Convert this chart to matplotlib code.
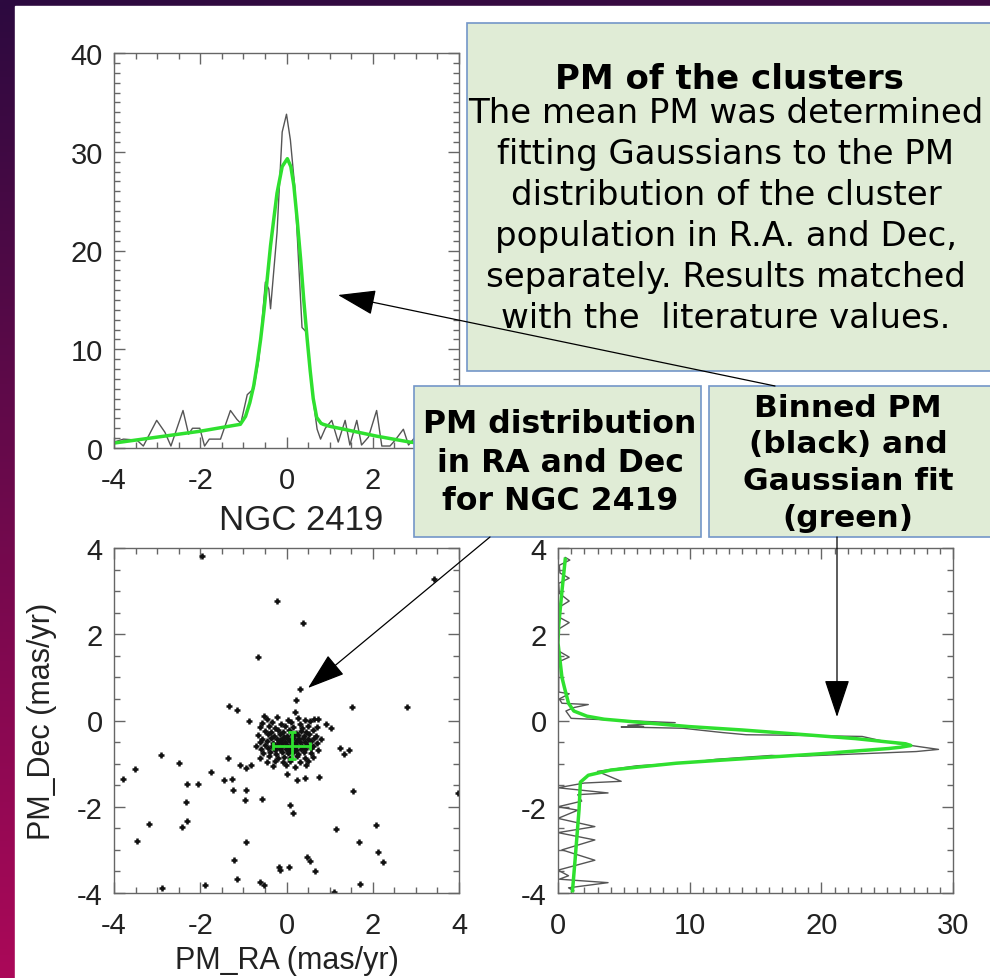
import numpy as np
import matplotlib
matplotlib.use("Agg")
import matplotlib.pyplot as plt
from matplotlib.patches import Rectangle, FancyArrowPatch
from matplotlib.ticker import MultipleLocator, FixedLocator

plt.rcParams['font.family'] = ['Liberation Sans', 'DejaVu Sans']
plt.rcParams['axes.unicode_minus'] = False

# binned PM in RA (top panel)
ra_bins = [-4.0, -3.78, -3.47, -3.32, -3.01, -2.82, -2.68, -2.40, -2.27, -2.18,
           -2.01, -1.90, -1.79, -1.53, -1.30, -1.15, -1.06, -0.91, -0.76, -0.64,
           -0.49, -0.41, -0.37, -0.22, -0.10, 0.0, 0.09, 0.19, 0.36, 0.47,
           0.55, 0.63, 0.71, 0.79, 0.90, 1.05, 1.20, 1.36, 1.47, 1.63,
           1.74, 1.90, 2.09, 2.21, 2.40, 2.52, 2.71, 2.83, 3.00, 3.15,
           3.30, 3.50, 3.70, 3.85, 4.0]
ra_counts = [0.6, 0.9, 0.8, 0.2, 2.8, 1.6, 0.2, 3.8, 1.4, 2.0,
             2.0, 0.2, 0.9, 0.9, 3.8, 2.9, 2.5, 5.4, 6.0, 9.0,
             16.8, 16.1, 14.1, 21.8, 32.0, 33.8, 31.2, 26.5, 12.2, 11.7,
             7.9, 4.5, 1.9, 0.9, 2.0, 2.8, 0.6, 2.8, 0.3, 2.8,
             0.3, 1.1, 3.8, 0.2, 0.2, 0.8, 1.9, 0.3, 1.2, 0.4,
             1.5, 0.3, 0.9, 0.2, 0.5]

# gaussian fit in RA
ra_fit_x = [-4.0, -3.0, -2.0, -1.07, -0.95, -0.85, -0.76, -0.68, -0.60, -0.52,
            -0.45, -0.37, -0.30, -0.22, -0.10, 0.02, 0.10, 0.17, 0.25, 0.33,
            0.40, 0.48, 0.55, 0.62, 0.70, 0.80, 0.85, 1.0, 1.33, 2.09,
            2.86, 3.5, 4.0]
ra_fit_y = [0.5, 1.1, 1.7, 2.4, 3.2, 4.6, 6.3, 8.5, 11.0, 14.0,
            17.0, 20.5, 23.0, 25.8, 28.5, 29.3, 28.5, 26.6, 23.0, 19.0,
            15.0, 11.0, 7.8, 5.0, 3.1, 2.5, 2.4, 2.2, 1.9, 1.2,
            0.6, 0.3, 0.15]
ra_ticks = [-4, -2, 0, 2, 4]
ra_ticklabels = ['-4', '-2', '0', '2', '']   # the "4" sits under the text box

# binned PM in Dec (right panel, drawn sideways)
dec_counts = [0.55, 0.9, 0.1, 0.15, 0.85, 0.05, 0.1, 0.85, 0.05, 0.05,
              0.85, 0.05, 0.0, 0.0, 0.85, 0.05, 0.05, 0.05, 0.05, 0.85,
              0.1, 0.3, 2.3, 1.2, 0.6, 1.0, 2.5, 8.9, 5.3, 6.5,
              4.8, 9.5, 12.5, 14.3, 17.0, 23.1, 25.0, 26.6, 28.9, 27.2,
              18.2, 16.2, 12.0, 9.9, 6.0, 3.0, 4.8, 2.0, 0.0, 3.8,
              1.5, 1.8, 0.0, 1.5, 0.0, 2.8, 0.0, 2.8, 0.3, 2.8,
              0.0, 0.8, 0.1, 3.8, 0.8, 1.2]
dec_bins = [3.78, 3.72, 3.60, 3.42, 3.30, 3.18, 2.95, 2.77, 2.62, 2.40,
            2.27, 2.12, 1.85, 1.62, 1.47, 1.36, 1.10, 0.85, 0.66, 0.62,
            0.50, 0.40, 0.37, 0.30, 0.22, 0.05, 0.03, -0.05, -0.11, -0.14,
            -0.15, -0.18, -0.28, -0.33, -0.34, -0.37, -0.50, -0.57, -0.67, -0.72,
            -0.83, -0.81, -0.90, -0.98, -1.05, -1.18, -1.41, -1.45, -1.56, -1.68,
            -1.72, -1.87, -2.00, -2.08, -2.27, -2.46, -2.60, -2.77, -3.00, -3.24,
            -3.47, -3.60, -3.68, -3.76, -3.88, -3.95]

# gaussian fit in Dec
dec_fit_counts = [0.55, 0.3, 0.05, 0.0, 0.3, 0.5, 0.8, 1.2, 2.2, 3.5,
                  6.5, 9.9, 14.0, 17.5, 20.5, 22.6, 24.8, 26.4, 26.8, 26.0,
                  25.1, 22.5, 20.0, 16.0, 12.4, 9.0, 6.1, 4.0, 2.3, 1.7,
                  1.6, 1.3, 1.1]
dec_fit_y = [3.74, 3.0, 2.2, 1.8, 1.0, 0.75, 0.4, 0.22, 0.1, 0.03,
             -0.05, -0.14, -0.22, -0.30, -0.37, -0.42, -0.49, -0.54, -0.58, -0.62,
             -0.65, -0.71, -0.77, -0.85, -0.92, -0.99, -1.08, -1.15, -1.27, -1.43,
             -2.06, -3.22, -3.95]

# stars: PM_RA, PM_Dec (mas/yr)
pm_ra = [-1.96, 3.43, -0.23, 0.39, -0.67, 0.31, 0.23, -1.33, -1.14, 1.53,
         2.79, 0.20, -2.91, -3.52, -3.80, -2.49, -2.31, -2.05, -2.33, -3.18,
         -2.42, -2.31, -3.47, -1.75, -1.36, -1.44, -1.26, -1.25, -0.93, -0.97,
         -0.56, -0.94, -1.22, -1.15, -1.90, -2.89, -0.62, -0.53, -0.18, -0.16,
         0.06, 0.48, 0.54, 0.65, 0.08, 0.15, 1.14, 1.54, 1.68, 2.07,
         2.13, 2.24, 1.70, 1.11, 3.97, 1.23, 1.45, 1.33, 0.76, 0.44,
         0.25, 0.02, -0.88, -0.53, 0.91, 1.03, 0.74, -1.08, -0.95, -0.83,
         -0.45, -0.22, 0.04, 0.26, 0.44, 0.63,
         -0.56, -0.34, -0.12, 0.11, 0.31, 0.54,
         -0.62, -0.41, -0.26, -0.04, 0.16, 0.36, 0.49, 0.71,
         -0.51, -0.36, -0.19, -0.07, 0.06, 0.21, 0.33, 0.46, 0.61,
         -0.66, -0.43, -0.29, -0.14, 0.01, 0.13, 0.26, 0.41, 0.53, 0.69,
         -0.56, -0.37, -0.23, -0.09, 0.03, 0.16, 0.29, 0.39, 0.51, 0.63, 0.79,
         -0.61, -0.46, -0.31, -0.17, -0.04, 0.07, 0.19, 0.31, 0.43, 0.56, 0.71,
         -0.71, -0.49, -0.34, -0.21, -0.11, 0.01, 0.11, 0.23, 0.36, 0.47, 0.61,
         -0.59, -0.43, -0.27, -0.16, -0.02, 0.09, 0.21, 0.33, 0.44, 0.57, 0.73,
         -0.54, -0.39, -0.24, -0.11, 0.03, 0.14, 0.27, 0.41, 0.56,
         -0.61, -0.41, -0.19, -0.06, 0.09, 0.24, 0.43, 0.62,
         -0.46, -0.26, -0.09, 0.07, 0.31, 0.51,
         -0.31, -0.01, 0.19, 0.46,
         -0.15, 0.0, -0.05, 0.12, 0.20, -0.25, 0.05, -0.10, 0.25, 0.15]
pm_dec = [3.82, 3.29, 2.77, 2.25, 1.47, 0.72, 0.47, 0.33, 0.25, 0.32,
          0.32, 0.19, -0.79, -1.13, -1.36, -0.99, -1.47, -1.47, -1.88, -2.41,
          -2.46, -2.32, -2.79, -1.19, -0.88, -1.37, -1.36, -1.60, -1.60, -1.84,
          -1.82, -2.81, -3.23, -3.67, -3.81, -3.88, -3.74, -3.81, -3.39, -3.47,
          -3.39, -3.16, -3.26, -3.49, -1.96, -2.15, -2.52, -1.63, -2.81, -2.43,
          -3.06, -3.27, -3.78, -3.97, -1.68, -0.64, -0.69, -0.78, -1.31, -1.33,
          -1.39, -1.24, -0.02, 0.10, -0.07, -0.17, 0.03, -1.03, -1.10, -1.03,
          0.03, 0.07, 0.02, 0.06, 0.01, 0.04,
          -0.06, -0.03, -0.08, -0.04, -0.07, -0.02,
          -0.16, -0.13, -0.17, -0.12, -0.15, -0.18, -0.13, -0.16,
          -0.24, -0.27, -0.22, -0.26, -0.23, -0.28, -0.24, -0.27, -0.22,
          -0.34, -0.31, -0.36, -0.32, -0.35, -0.31, -0.34, -0.36, -0.32, -0.35,
          -0.43, -0.40, -0.44, -0.41, -0.43, -0.40, -0.44, -0.41, -0.43, -0.40, -0.44,
          -0.51, -0.48, -0.52, -0.49, -0.51, -0.48, -0.52, -0.49, -0.51, -0.48, -0.52,
          -0.59, -0.56, -0.60, -0.57, -0.59, -0.56, -0.60, -0.57, -0.59, -0.56, -0.60,
          -0.67, -0.64, -0.68, -0.65, -0.67, -0.64, -0.68, -0.65, -0.67, -0.64, -0.68,
          -0.76, -0.73, -0.77, -0.74, -0.76, -0.73, -0.77, -0.74, -0.76,
          -0.86, -0.83, -0.87, -0.84, -0.86, -0.83, -0.87, -0.84,
          -0.96, -0.93, -0.97, -0.94, -0.96, -0.93,
          -1.06, -1.03, -1.07, -1.04,
          -0.45, -0.62, -0.38, -0.53, -0.62, -0.62, -0.70, -0.52, -0.45, -0.35]

# cluster mean PM with fitted widths
cl_ra, cl_dec = 0.12, -0.58
cl_ra_err, cl_dec_err = 0.43, 0.31

title_top = "NGC 2419"
box_main_title = "PM of the clusters"
box_main_text = ("The mean PM was determined\nfitting Gaussians to the PM\n"
                 "distribution of the cluster\npopulation in R.A. and Dec,\n"
                 "separately. Results matched\nwith the  literature values.")
box_left_text = "PM distribution\nin RA and Dec\nfor NGC 2419"
box_right_text = "Binned PM\n(black) and\nGaussian fit\n(green)"

W, H = 990, 979
GREEN = '#2fe02f'
BOXFILL = '#e0ecd6'
BOXEDGE = '#7396c8'


def fx(px):
    return px / W


def fy(py):
    return 1 - py / H


fig = plt.figure(figsize=(W / 100, H / 100), dpi=100)

# slide background: purple gradient with a white panel
bg = fig.add_axes([0, 0, 1, 1], zorder=-10)
bg.axis('off')
yy, xx = np.mgrid[0:1:300j, 0:1:300j]
t = 0.88 * yy + 0.12 * xx
c0 = np.array([0x2c, 0x0a, 0x3f]) / 255
c1 = np.array([0xbc, 0x08, 0x5c]) / 255
grad = c0[None, None, :] * (1 - t[..., None]) + c1[None, None, :] * t[..., None]
bg.imshow(grad, extent=[0, 1, 0, 1], aspect='auto', origin='upper')
bg.add_patch(Rectangle((fx(15), 0), 1, fy(7), color='white'))
bg.set_xlim(0, 1)
bg.set_ylim(0, 1)


def style(ax):
    ax.tick_params(which='both', direction='in', top=True, right=True,
                   color='#666', labelcolor='#222', labelsize=21, width=1)
    ax.tick_params(which='major', length=8)
    ax.tick_params(which='minor', length=4)
    ax.tick_params(axis='x', pad=13)
    ax.tick_params(axis='y', pad=8)
    for s in ax.spines.values():
        s.set_color('#666')
        s.set_linewidth(1)


# top panel: RA distribution
ax1 = fig.add_axes([fx(114), fy(449), 345 / W, 395 / H])
ax1.plot(ra_bins, ra_counts, color='#555', lw=1)
ax1.plot(ra_fit_x, ra_fit_y, color=GREEN, lw=2.5)
ax1.set_xlim(-4, 4)
ax1.set_ylim(0, 40)
ax1.set_xticks(ra_ticks)
ax1.set_xticklabels(ra_ticklabels)
ax1.xaxis.set_minor_locator(MultipleLocator(0.5))
ax1.yaxis.set_major_locator(MultipleLocator(10))
ax1.yaxis.set_minor_locator(MultipleLocator(1))
style(ax1)
ax1.set_xlabel(title_top, fontsize=25, color='#222')
ax1.xaxis.set_label_coords(0.542, -0.14)

# bottom left: vector point diagram
ax2 = fig.add_axes([fx(114), fy(894), 345 / W, 345 / H])
ax2.plot(pm_ra, pm_dec, ls='none', marker='+', ms=4.5, mew=1.8, color='#111')
ax2.errorbar(cl_ra, cl_dec, xerr=cl_ra_err, yerr=cl_dec_err, color=GREEN,
             lw=2, capsize=3, capthick=2)
ax2.set_xlim(-4, 4)
ax2.set_ylim(-4, 4)
for a in (ax2.xaxis, ax2.yaxis):
    a.set_major_locator(MultipleLocator(2))
    a.set_minor_locator(MultipleLocator(0.5))
style(ax2)
ax2.set_xlabel('PM_RA (mas/yr)', fontsize=22, color='#222')
ax2.set_ylabel('PM_Dec (mas/yr)', fontsize=22, color='#222')
ax2.xaxis.set_label_coords(0.5, -0.15)
ax2.yaxis.set_label_coords(-0.165, 0.5)

# bottom right: Dec distribution
ax3 = fig.add_axes([fx(558), fy(894), 395 / W, 345 / H])
ax3.plot(dec_counts, dec_bins, color='#555', lw=1)
ax3.plot(dec_fit_counts, dec_fit_y, color=GREEN, lw=2.5)
ax3.set_xlim(0, 30)
ax3.set_ylim(-4, 4)
ax3.xaxis.set_major_locator(MultipleLocator(10))
ax3.xaxis.set_minor_locator(MultipleLocator(1))
ax3.yaxis.set_major_locator(MultipleLocator(2))
ax3.yaxis.set_minor_locator(MultipleLocator(0.5))
style(ax3)

# annotation boxes
for (x0, y0, x1, y1) in [(467, 24, 1000, 372), (414, 387, 701, 538), (709, 387, 1000, 538)]:
    fig.add_artist(Rectangle((fx(x0), fy(y1)), (x1 - x0) / W, (y1 - y0) / H,
                             transform=fig.transFigure, facecolor=BOXFILL,
                             edgecolor=BOXEDGE, lw=1.2, zorder=2))

# multi-line texts: va='baseline' pins the last line's baseline
fig.text(fx(729), fy(89), box_main_title, ha='center', va='baseline', fontsize=24.5,
         fontweight='bold', family='DejaVu Sans', zorder=3)
fig.text(fx(726), fy(328), box_main_text, ha='center', va='baseline', fontsize=24.5,
         multialignment='center', linespacing=1.31, family='DejaVu Sans', zorder=3)
fig.text(fx(560), fy(510), box_left_text, ha='center', va='baseline', fontsize=22.7,
         fontweight='bold', multialignment='center', linespacing=1.31,
         family='DejaVu Sans', zorder=3)
fig.text(fx(848), fy(527), box_right_text, ha='center', va='baseline', fontsize=22.5,
         fontweight='bold', multialignment='center', linespacing=1.34,
         family='DejaVu Sans', zorder=3)

# arrows
for (x0, y0, x1, y1) in [(775, 387, 338, 296), (490, 538, 308, 689), (837, 538, 837, 718)]:
    fig.add_artist(FancyArrowPatch((fx(x0), fy(y0)), (fx(x1), fy(y1)),
                                   transform=fig.transFigure,
                                   arrowstyle='-|>,head_length=24,head_width=8',
                                   mutation_scale=1, color='black', lw=0.9,
                                   shrinkA=0, shrinkB=0, zorder=4))

fig.savefig('out.png', dpi=100)
